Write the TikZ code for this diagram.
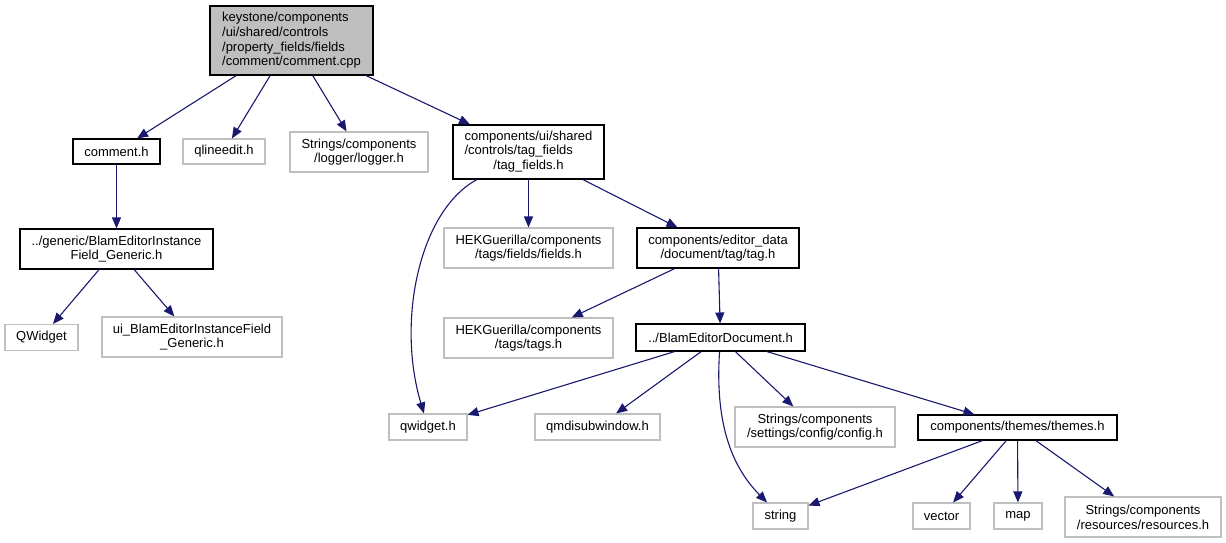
\documentclass[tikz,border=0pt]{standalone}
\usepackage{fontspec}
\setmainfont{Liberation Sans}
\usepackage{tikz}
\usetikzlibrary{arrows.meta}
\definecolor{edgeblue}{RGB}{25,25,112}
\definecolor{boxgray}{RGB}{191,191,191}

\begin{document}
\begin{tikzpicture}[x=1pt, y=-1pt, font=\fontsize{13}{14.7}\selectfont,
  file/.style={draw=black, line width=1.1pt, inner sep=0pt, align=center},
  sysfile/.style={draw=boxgray, line width=1.1pt, inner sep=0pt, align=center},
  dep/.style={edgeblue, line width=1.1pt, -{Triangle[length=11pt,width=9pt]}}]
  % Canvas
  \fill[white] (0,0) rectangle (1226,543);
  \useasboundingbox (0,0) rectangle (1226,543);
  % Files
  \node[file, fill=boxgray, align=left, minimum width=163pt, minimum height=69pt] (root) at (291.5,40.5)
    {keystone/components\\/ui/shared/controls\\/property\_fields/fields\\/comment/comment.cpp};
  \node[file, minimum width=87pt, minimum height=25pt] (commh) at (116.5,151.5) {comment.h};
  \node[sysfile, minimum width=82pt, minimum height=25pt] (qline) at (224,151.5) {qlineedit.h};
  \node[sysfile, minimum width=138pt, minimum height=40pt] (logger) at (359,152)
    {Strings/components\\/logger/logger.h};
  \node[file, minimum width=151pt, minimum height=54pt] (tagf) at (528.5,152)
    {\begin{tabular}{@{}l@{}}components/ui/shared\\/controls/tag\_fields\\\multicolumn{1}{@{}c@{}}{/tag\_fields.h}\end{tabular}};
  \node[file, minimum width=193pt, minimum height=40pt] (generic) at (116.5,249)
    {../generic/BlamEditorInstance\\Field\_Generic.h};
  \node[sysfile, minimum width=169pt, minimum height=40pt] (fields) at (528.5,248)
    {HEKGuerilla/components\\/tags/fields/fields.h};
  \node[file, minimum width=162pt, minimum height=40pt] (tagh) at (718,248)
    {components/editor\_data\\/document/tag/tag.h};
  \node[sysfile, minimum width=73pt, minimum height=26pt] (qwid) at (41.5,337.5) {QWidget};
  \node[sysfile, minimum width=180pt, minimum height=40pt] (uifield) at (192,337)
    {ui\_BlamEditorInstanceField\\\_Generic.h};
  \node[sysfile, minimum width=169pt, minimum height=40pt] (tags) at (528.5,338)
    {HEKGuerilla/components\\/tags/tags.h};
  \node[file, minimum width=169pt, minimum height=27pt] (bdoc) at (720.5,337.5) {../BlamEditorDocument.h};
  \node[sysfile, minimum width=78pt, minimum height=26pt] (qwh) at (428,427) {qwidget.h};
  \node[sysfile, minimum width=125pt, minimum height=26pt] (qmdi) at (597.5,427) {qmdisubwindow.h};
  \node[sysfile, minimum width=160pt, minimum height=40pt] (config) at (815,427)
    {Strings/components\\/settings/config/config.h};
  \node[file, minimum width=199pt, minimum height=25pt] (themes) at (1017.5,427.5) {components/themes/themes.h};
  \node[sysfile, minimum width=55pt, minimum height=26pt] (str) at (780.5,516) {string};
  \node[sysfile, minimum width=57pt, minimum height=26pt] (vec) at (941.5,516) {vector};
  \node[sysfile, minimum width=48pt, minimum height=26pt] (map) at (1018,516) {map};
  \node[sysfile, minimum width=156pt, minimum height=40pt] (res) at (1143,517)
    {Strings/components\\/resources/resources.h};
  % Includes
  \draw[dep] (root) -- (commh);
  \draw[dep] (root) -- (qline);
  \draw[dep] (root) -- (logger);
  \draw[dep] (root) -- (tagf);
  \draw[dep] (commh) -- (generic);
  \draw[dep] (generic) -- (qwid);
  \draw[dep] (generic) -- (uifield);
  \draw[dep] (tagf) .. controls (420,210) and (396,320) .. (qwh);
  \draw[dep] (tagf) -- (fields);
  \draw[dep] (tagf) -- (tagh);
  \draw[dep] (tagh) -- (tags);
  \draw[dep] (tagh) -- (bdoc);
  \draw[dep] (bdoc) -- (qwh);
  \draw[dep] (bdoc) -- (qmdi);
  \draw[dep] (bdoc) .. controls (715,420) and (730,465) .. (str);
  \draw[dep] (bdoc) -- (config);
  \draw[dep] (bdoc) -- (themes);
  \draw[dep] (themes) -- (str);
  \draw[dep] (themes) -- (vec);
  \draw[dep] (themes) -- (map);
  \draw[dep] (themes) -- (res);
\end{tikzpicture}
\end{document}
